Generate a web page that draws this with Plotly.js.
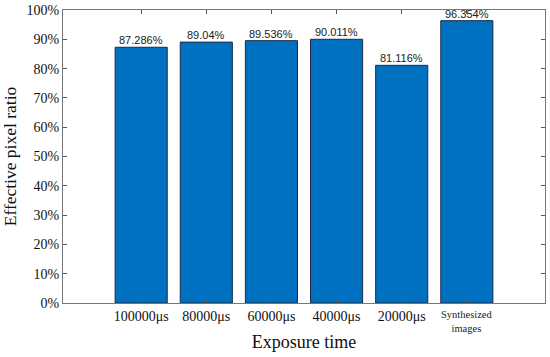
<!DOCTYPE html>
<html><head><meta charset="utf-8">
<script src="https://cdn.plot.ly/plotly-3.0.1.min.js"></script>
<style>html,body{margin:0;padding:0;background:#fff;}</style>
</head><body>
<div id="chart" style="width:550px;height:357px;"></div>
<script>
const categories = ["100000μs", "80000μs", "60000μs", "40000μs", "20000μs", "Synthesized images"];
const tickLabels = ["100000μs", "80000μs", "60000μs", "40000μs", "20000μs", ""];
const smallTickLabel = "Synthesized<br>images";
const ratios = [87.286, 89.04, 89.536, 90.011, 81.116, 96.354];
const ratioLabels = ["87.286%", "89.04%", "89.536%", "90.011%", "81.116%", "96.354%"];
const yTicks = [0,10,20,30,40,50,60,70,80,90,100];
const yTickText = yTicks.map(v => v + "%");

const xIdx = categories.map((c, i) => i);

const trace = {
  type: "bar",
  x: xIdx,
  y: ratios,
  marker: {color: "#0070C0", line: {color: "#1c2a44", width: 1}},
  width: 0.8,
  hoverinfo: "none"
};

const serif = "Liberation Serif, Times New Roman, serif";
const annotations = ratios.map((v, i) => ({
  x: xIdx[i], y: v, xref: "x", yref: "y",
  text: ratioLabels[i], showarrow: false,
  yanchor: "bottom", yshift: -1,
  font: {family: "Liberation Sans, Arial, sans-serif", size: 11, color: "#222"}
}));
annotations.push({
  x: xIdx[5], y: 0, xref: "x", yref: "y",
  text: smallTickLabel, showarrow: false,
  yanchor: "top", yshift: -4,
  font: {family: serif, size: 10.5, color: "#222"}
});

const layout = {
  width: 550, height: 357,
  margin: {l: 63, r: 5, t: 10, b: 54},
  paper_bgcolor: "#fff", plot_bgcolor: "#fff",
  showlegend: false,
  annotations: annotations,
  xaxis: {
    range: [-1.2, 6.2],
    tickmode: "array", tickvals: xIdx, ticktext: tickLabels,
    ticks: "inside", ticklen: 4, tickcolor: "#555",
    showline: true, linecolor: "#777", linewidth: 1, mirror: "ticks",
    showgrid: false, zeroline: false,
    tickfont: {family: serif, size: 14, color: "#111"},
    title: {text: "Exposure time", font: {family: serif, size: 18, color: "#111"}, standoff: 12}
  },
  yaxis: {
    range: [0, 100],
    tickmode: "array", tickvals: yTicks, ticktext: yTickText,
    ticks: "inside", ticklen: 4, tickcolor: "#555",
    showline: true, linecolor: "#777", linewidth: 1, mirror: "ticks",
    showgrid: false, zeroline: false,
    tickfont: {family: serif, size: 14, color: "#111"},
    title: {text: "Effective pixel ratio", font: {family: serif, size: 17.5, color: "#111"}, standoff: 9}
  }
};

Plotly.newPlot("chart", [trace], layout, {displayModeBar: false, staticPlot: true});
</script>
</body></html>
